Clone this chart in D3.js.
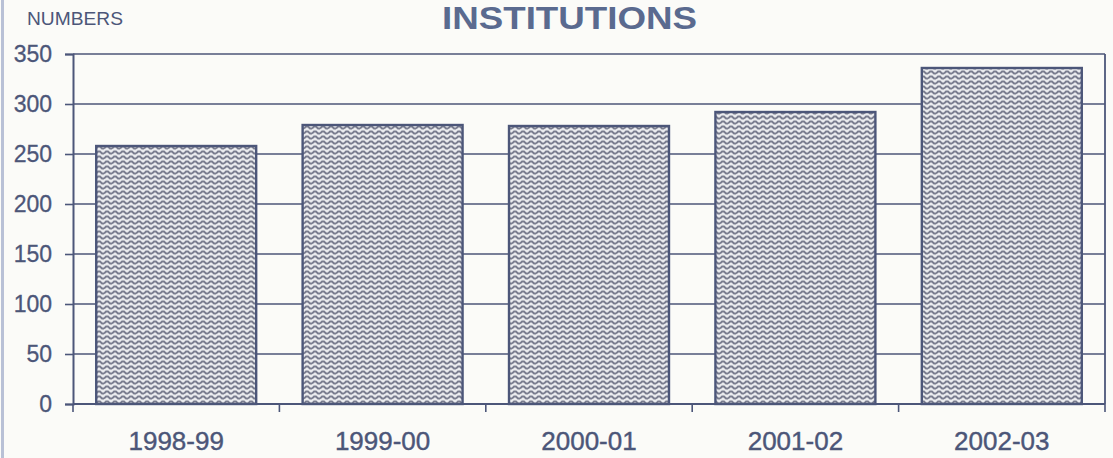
<!DOCTYPE html>
<html>
<head>
<meta charset="utf-8">
<script src="https://cdn.jsdelivr.net/npm/d3@7.9.0/dist/d3.min.js"></script>
<style>
  body { margin: 0; background: #fbfbf8; }
  svg { display: block; }
</style>
</head>
<body>
<svg id="chart" width="1113" height="458"></svg>
<script>
// data
const years = ['1998-99', '1999-00', '2000-01', '2001-02', '2002-03'];
const institutions = [258, 279, 278, 292, 336];
const yTicks = [0, 50, 100, 150, 200, 250, 300, 350];

const ink = '#4c5679';
const textInk = '#4c5678';
const font = 'Liberation Sans, Arial, sans-serif';

const svg = d3.select('#chart');
const plotLeft = 73, plotRight = 1105, plotTop = 54, plotBottom = 404;

// scan edge on the left
svg.append('rect').attr('x', 1).attr('y', 0).attr('width', 3).attr('height', 458)
   .attr('fill', '#b9c1d6');

// wavy hatch fill
const defs = svg.append('defs');
const pat = defs.append('pattern')
    .attr('id', 'wave').attr('patternUnits', 'userSpaceOnUse')
    .attr('width', 8).attr('height', 5);
pat.append('rect').attr('width', 8).attr('height', 5).attr('fill', '#eaebee');
pat.append('path')
    .attr('d', 'M0,3.5 L2,1.5 L4,1.5 L6,3.5 L8,3.5')
    .attr('fill', 'none').attr('stroke', '#7a7d8f').attr('stroke-width', 1.8);

const x = d3.scaleBand().domain(years).range([plotLeft, plotRight])
    .paddingInner(0.225).paddingOuter(0.1125);
const y = d3.scaleLinear().domain([0, 350]).range([plotBottom, plotTop]);

// gridlines
svg.append('g').selectAll('line').data(yTicks.filter(d => d > 0)).join('line')
   .attr('x1', plotLeft).attr('x2', plotRight)
   .attr('y1', d => y(d)).attr('y2', d => y(d))
   .attr('stroke', ink).attr('stroke-width', 1.6);

// right border
svg.append('line').attr('x1', plotRight).attr('x2', plotRight)
   .attr('y1', plotTop).attr('y2', plotBottom)
   .attr('stroke', ink).attr('stroke-width', 1.8);

// bars
svg.append('g').selectAll('rect').data(institutions).join('rect')
   .attr('x', (d, i) => x(years[i]))
   .attr('y', d => y(d))
   .attr('width', x.bandwidth())
   .attr('height', d => y(0) - y(d))
   .attr('fill', 'url(#wave)')
   .attr('stroke', ink).attr('stroke-width', 2.4);

// y axis
const yAxis = svg.append('g').attr('transform', `translate(${plotLeft},0)`)
   .call(d3.axisLeft(y).tickValues(yTicks).tickSize(8).tickPadding(13));
yAxis.select('.domain').attr('stroke', ink).attr('stroke-width', 2);
yAxis.selectAll('.tick line').attr('stroke', ink).attr('stroke-width', 1.6);
yAxis.selectAll('.tick text')
   .attr('fill', textInk).attr('font-family', font)
   .attr('font-size', 23)
   .attr('stroke', textInk).attr('stroke-width', 0.3);

// x axis baseline and ticks at band edges
svg.append('line').attr('x1', plotLeft).attr('x2', plotRight)
   .attr('y1', plotBottom).attr('y2', plotBottom)
   .attr('stroke', ink).attr('stroke-width', 2.2);
const edges = d3.range(years.length + 1).map(i => x.range()[0] + i * x.step());
svg.append('g').selectAll('line').data(edges).join('line')
   .attr('x1', d => d).attr('x2', d => d)
   .attr('y1', plotBottom).attr('y2', plotBottom + 8)
   .attr('stroke', ink).attr('stroke-width', 1.6);

svg.append('g').selectAll('text').data(years).join('text')
   .attr('x', d => x(d) + x.bandwidth() / 2)
   .attr('y', 450)
   .attr('text-anchor', 'middle')
   .attr('fill', textInk)
   .attr('font-family', font)
   .attr('font-size', 26)
   .attr('stroke', textInk).attr('stroke-width', 0.4)
   .text(d => d);

// titles
svg.append('text').attr('x', 442).attr('y', 29)
   .attr('fill', '#5a6a8f').attr('font-family', font)
   .attr('font-weight', 'bold').attr('font-size', 32)
   .attr('textLength', 255).attr('lengthAdjust', 'spacingAndGlyphs')
   .text('INSTITUTIONS');

svg.append('text').attr('x', 27).attr('y', 25)
   .attr('fill', textInk).attr('font-family', font)
   .attr('font-size', 18).attr('textLength', 96).attr('lengthAdjust', 'spacingAndGlyphs')
   .text('NUMBERS');
</script>
</body>
</html>
